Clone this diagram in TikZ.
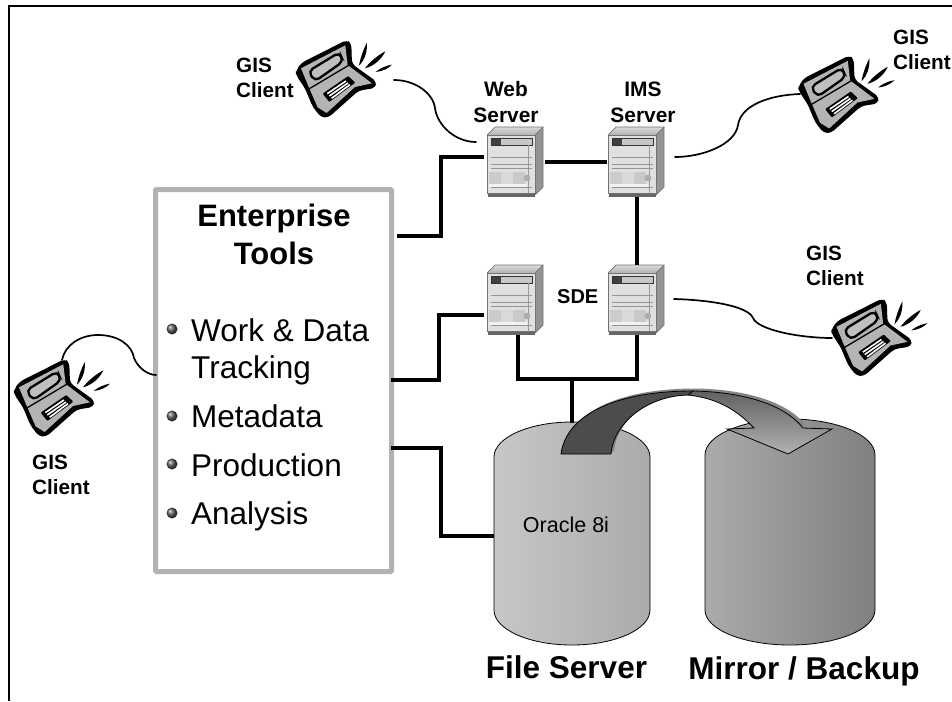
\documentclass[tikz,border=0pt]{standalone}
\usepackage{fontspec}
\setmainfont{Liberation Sans}
\usetikzlibrary{calc}
\definecolor{boxgray}{HTML}{B2B2B2}
\definecolor{lapgray}{HTML}{B4B4B4}
\tikzset{
  framesty/.style={line width=2.6pt,black},
  wire/.style={line width=4pt,black,line cap=butt,line join=miter},
  cable/.style={line width=1.7pt,black,line cap=round},
  clientlabel/.style={font=\fontsize{20.7}{25}\selectfont\bfseries,align=left,inner sep=0pt,anchor=west},
  serverlabel/.style={font=\fontsize{20.9}{26}\selectfont\bfseries,align=center,inner sep=0pt,anchor=center},
  itemtext/.style={font=\fontsize{31.5}{37}\selectfont,align=left,inner sep=0pt},
  captiontext/.style={font=\fontsize{31.5}{38}\selectfont\bfseries,inner sep=0pt,anchor=base},
  laptop/.pic={
    \begin{scope}[x=0.3333pt,y=-0.3333pt]
      % silhouette
      \fill[black,rounded corners=4pt] (888,212) -- (905,188) -- (1040,120) -- (1054,130) -- (1056,192) -- (1130,245) -- (1126,264) -- (1076,272) -- (985,353) -- (963,352) -- (938,320) -- (915,265) -- (888,225) -- cycle;
      % grey body
      \fill[lapgray] (903,205) -- (1036,136) -- (1043,195) -- (1116,250) -- (1065,261) -- (980,339) -- (953,322) -- (928,265) -- cycle;
      % hinge
      \draw[line width=1.3pt,black] (925,268) -- (1046,196);
      % screen
      \draw[line width=2.3pt,fill=lapgray!85!white,rounded corners=5pt] (925,214) -- (1018,157) -- (1030,184) -- (945,244) -- cycle;
      % keyboard
      \fill[black,rounded corners=1pt] (968,281) -- (1045,228) -- (1066,248) -- (988,306) -- cycle;
      \draw[line width=1.6pt,white] (982,281) -- (1038,243);
      \draw[line width=1.6pt,white] (988,288) -- (1044,249);
      \draw[line width=1.6pt,white] (995,295) -- (1050,254);
      % sparks
      \fill[black] (1077,197) .. controls (1082,170) and (1092,145) .. (1101,128) .. controls (1102,155) and (1095,180) .. (1077,197) -- cycle;
      \fill[black] (1095,205) .. controls (1110,185) and (1135,165) .. (1156,154) .. controls (1145,178) and (1122,198) .. (1095,205) -- cycle;
      \fill[black] (1127,216) .. controls (1140,205) and (1158,197) .. (1176,194) .. controls (1165,206) and (1147,214) .. (1127,216) -- cycle;
    \end{scope}
  },
  servergfx/.pic={
    \fill[black!60] (1,58) rectangle (48,61.5);
    \shade[top color=black!15,bottom color=black!30] (0,0) -- (8,-8) -- (56,-8) -- (48,0) -- cycle;
    \fill[black!42] (48,0) -- (56,-8) -- (56,52) -- (48,60) -- cycle;
    \fill[black!12] (0,0) rectangle (48,58);
    \fill[black!20] (2,37) rectangle (14,49);
    \fill[black!15] (14,37) rectangle (26,49);
    \fill[black!21] (26,37) rectangle (38,49);
    \fill[black!5] (2,49) rectangle (40,52);
    \draw[black!55,line width=.7pt] (0,0) rectangle (48,58);
    \draw[black!55,line width=.7pt] (0,0) -- (8,-8) -- (56,-8) -- (56,52) -- (48,60);
    \draw[black!55,line width=.7pt] (48,0) -- (56,-8);
    \fill[black!22] (4,3.5) rectangle (45,10);
    \fill[black!75] (4,3.5) rectangle (14,10);
    \draw[black!80,line width=.7pt] (4,3.5) rectangle (45,10);
    \draw[black!42,line width=.7pt] (4,22) -- (45,22) (4,29) -- (45,29) (4,33) -- (45,33) (4,52) -- (45,52);
    \draw[black!40,line width=.7pt] (41,10) -- (41,58);
    \fill[black!32] (40,43) circle (3.4);
  },
  bulletgfx/.pic={\shade[ball color=black!65] (0,0) circle (5.5);},
}
\begin{document}
\begin{tikzpicture}[x=1pt,y=-1pt]
\useasboundingbox (0,0) rectangle (952,701);
\clip (0,0) rectangle (952,701);
\fill[white] (0,0) rectangle (952,701);
% frame
\coordinate (frameBL) at (9,701);
\coordinate (frameTL) at (9,6);
\coordinate (frameTR) at (952,6);
\draw[framesty] (frameBL) -- (frameTL) -- (frameTR);

% main box
\node[draw=boxgray,line width=5pt,rounded corners=1pt,minimum width=236pt,minimum height=382pt,inner sep=0pt,fill=white] (tools) at (273.5,380.5) {};
\node[font=\fontsize{31}{38}\selectfont\bfseries,align=center,inner sep=0pt] (toolstitle) at (274,234.5) {Enterprise\\Tools};
\node[itemtext,anchor=west] (work) at (191,351.5) {Work \& Data\\Tracking};
\node[itemtext,anchor=base west] (meta) at (191,427) {Metadata};
\node[itemtext,anchor=base west] (prod) at (191,476) {Production};
\node[itemtext,anchor=base west] (anal) at (191,524) {Analysis};
\pic at (172,329) {bulletgfx};
\pic at (172,416) {bulletgfx};
\pic at (172,464) {bulletgfx};
\pic at (172,513) {bulletgfx};

% servers (node = footprint)
\node[inner sep=0pt,minimum width=48pt,minimum height=58pt] (web) at (511,164) {};
\node[inner sep=0pt,minimum width=48pt,minimum height=58pt] (ims) at (632,164) {};
\node[inner sep=0pt,minimum width=48pt,minimum height=58pt] (lft) at (511,302) {};
\node[inner sep=0pt,minimum width=48pt,minimum height=58pt] (sde) at (632,302) {};
\pic at (487,135) {servergfx};
\pic at (608,135) {servergfx};
\pic at (487,273) {servergfx};
\pic at (608,273) {servergfx};
\node[serverlabel] (weblabel) at (506,102) {Web\\Server};
\node[serverlabel] (imslabel) at (643,102) {IMS\\Server};
\node[font=\fontsize{20}{24}\selectfont\bfseries,inner sep=0pt,anchor=base west] (sdelabel) at (557,303) {SDE};

% cylinders
\node[inner sep=0pt,minimum width=156pt,minimum height=223pt] (file) at (572,533.5) {};
\node[inner sep=0pt,minimum width=170pt,minimum height=226pt] (mirror) at (790,532) {};
\shade[left color=black!22,right color=black!33,draw=black,line width=.8pt]
  (494,457) arc[start angle=180,end angle=360,x radius=78,y radius=35] -- (650,610) arc[start angle=0,end angle=180,x radius=78,y radius=35] -- cycle;
\shade[left color=black!33,right color=black!50,draw=black,line width=.8pt]
  (705,455) arc[start angle=180,end angle=360,x radius=85,y radius=36] -- (875,610) arc[start angle=0,end angle=180,x radius=85,y radius=35] -- cycle;
\node[font=\fontsize{21.5}{26}\selectfont,inner sep=0pt] (oracle) at (566,525) {Oracle 8i};
\node[captiontext] (filecap) at (566.5,678) {File Server};
\node[captiontext] (mirrorcap) at (804,679) {Mirror / Backup};

% thick wires
\coordinate (toolsA) at (397,236);
\coordinate (webW) at (484,157);
\coordinate (toolsB) at (391,380);
\coordinate (lftW) at (484,315);
\coordinate (toolsC) at (391,448);
\coordinate (fileW) at (494,536);
\coordinate (webE) at (545,162);
\coordinate (imsW) at (607,162);
\coordinate (imsS) at (637,197);
\coordinate (sdeN) at (637,265);
\coordinate (lftS) at (518,335);
\coordinate (sdeS) at (637,335);
\coordinate (joinT) at (572,379);
\coordinate (fileN) at (572,423);
\draw[wire] (toolsA) -- ++(44,0) |- (webW);
\draw[wire] (toolsB) -- ++(48,0) |- (lftW);
\draw[wire] (toolsC) -- ++(50,0) |- (fileW);
\draw[wire] (webE) -- (imsW);
\draw[wire] (imsS) -- (sdeN);
\draw[wire] (lftS) |- (joinT -| sdeS) -- (sdeS);
\draw[wire] (joinT) -- (fileN);

% replication arrow
\begin{scope}[shift={(3,-2.5)}]
\fill[black!48] (561,454) .. controls (566,415) and (615,391) .. (693,391) .. controls (745,392) and (785,405) .. (803,428) -- (790,428) .. controls (770,408) and (730,397) .. (688,395) .. controls (645,396) and (613,425) .. (611,454) -- cycle;
\end{scope}
\coordinate (arrowmidO) at (693,391);
\coordinate (arrowmidI) at (688,395);
\shade[top color=black!62,bottom color=black!30,draw=black,line width=.8pt]
 (arrowmidO) .. controls (745,392) and (785,405) .. (803,428) -- (832,429) -- (788,454) -- (727,429) -- (754,428) .. controls (735,408) and (715,398) .. (arrowmidI) -- cycle;
\fill[black!70,draw=black,line width=.8pt]
 (561,454) .. controls (566,415) and (615,391) .. (arrowmidO) -- (arrowmidI) .. controls (645,396) and (613,425) .. (611,454) -- cycle;

% laptops
\pic at (0,0) {laptop};
\pic at (502.5,15.5) {laptop};
\pic at (535.5,258.5) {laptop};
\pic at (-282,319) {laptop};
\node[clientlabel] (gis1) at (236,78) {GIS\\Client};
\node[clientlabel] (gis2) at (893,50) {GIS\\Client};
\node[clientlabel] (gis3) at (806,266) {GIS\\Client};
\node[clientlabel] (gis4) at (32,475) {GIS\\Client};

% cables
\coordinate (lapA) at (394,80);
\coordinate (webC) at (476,142);
\coordinate (lapB) at (800,94);
\coordinate (imsC) at (675,157);
\coordinate (lapC) at (832,338);
\coordinate (sdeC) at (674,299);
\coordinate (lapD) at (62,360);
\coordinate (toolsD) at (156,375);
\draw[cable] (lapA) .. controls (415,80) and (433,93) .. (435,108) .. controls (437,125) and (455,142) .. (webC);
\draw[cable] (imsC) .. controls (702,157) and (735,145) .. (738,125) .. controls (741,105) and (770,95) .. (lapB);
\draw[cable] (sdeC) .. controls (710,300) and (748,306) .. (753,318) .. controls (758,330) and (800,338) .. (lapC);
\draw[cable] (lapD) .. controls (65,345) and (80,335) .. (98,335) .. controls (118,335) and (132,345) .. (134,358) .. controls (138,368) and (148,375) .. (toolsD);
\end{tikzpicture}
\end{document}
